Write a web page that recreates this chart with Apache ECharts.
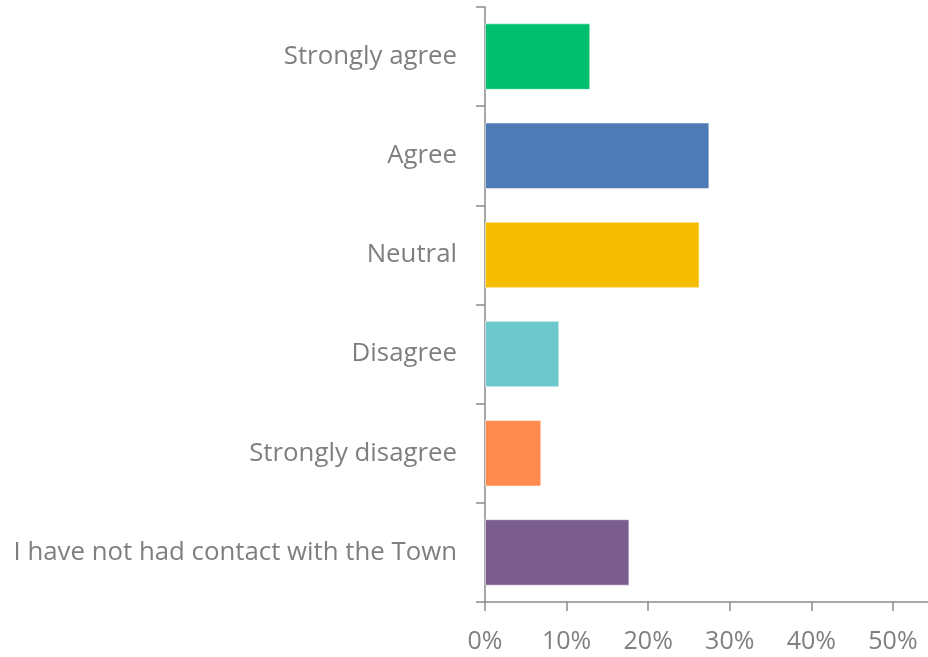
<!DOCTYPE html>
<html>
<head>
<meta charset="utf-8">
<script src="https://cdn.jsdelivr.net/npm/echarts@6/dist/echarts.min.js"></script>
<style>
  html, body { margin: 0; padding: 0; background: #ffffff; }
  #chart { width: 928px; height: 657px; }
</style>
</head>
<body>
<div id="chart"></div>
<script>
// Survey responses, top to bottom
const categories = [
  'Strongly agree',
  'Agree',
  'Neutral',
  'Disagree',
  'Strongly disagree',
  'I have not had contact with the Town'
];
const shares = [0.129, 0.275, 0.263, 0.091, 0.069, 0.177];
const barColors = ['#00BF6F', '#4E7AB5', '#F7BD00', '#6DC8CE', '#FF8B4F', '#7B5C8E'];
const xTicks = [0, 0.1, 0.2, 0.3, 0.4, 0.5];

const axisGrey = '#8a8a8a';
const textGrey = '#7f7f7f';
const fontFamily = '"Open Sans", "Noto Sans", sans-serif';

const chart = echarts.init(document.getElementById('chart'));
chart.setOption({
  animation: false,
  grid: { left: 485, right: 0, top: 7, bottom: 55, containLabel: false },
  xAxis: {
    type: 'value',
    min: 0,
    max: 0.543,
    splitLine: { show: false },
    axisLine: { show: true, lineStyle: { color: axisGrey, width: 1.5 } },
    axisTick: { show: true, length: 9, customValues: xTicks, lineStyle: { color: axisGrey, width: 1.5 } },
    axisLabel: {
      customValues: xTicks,
      margin: 27,
      color: textGrey,
      fontSize: 25,
      fontFamily: fontFamily,
      formatter: v => Math.round(v * 100) + '%'
    }
  },
  yAxis: {
    type: 'category',
    inverse: true,
    data: categories,
    axisLine: { show: true, lineStyle: { color: axisGrey, width: 1.5 } },
    axisTick: { show: true, length: 9, lineStyle: { color: axisGrey, width: 1.5 } },
    axisLabel: {
      margin: 28,
      color: textGrey,
      fontSize: 25.8,
      fontFamily: fontFamily,
      padding: [4, 0, 0, 0]
    }
  },
  series: [{
    type: 'bar',
    data: shares.map((v, i) => ({ value: v, itemStyle: { color: barColors[i] } })),
    barCategoryGap: '33%',
    itemStyle: { borderColor: 'rgba(255,255,255,0.5)', borderWidth: 1 }
  }]
});
</script>
</body>
</html>
